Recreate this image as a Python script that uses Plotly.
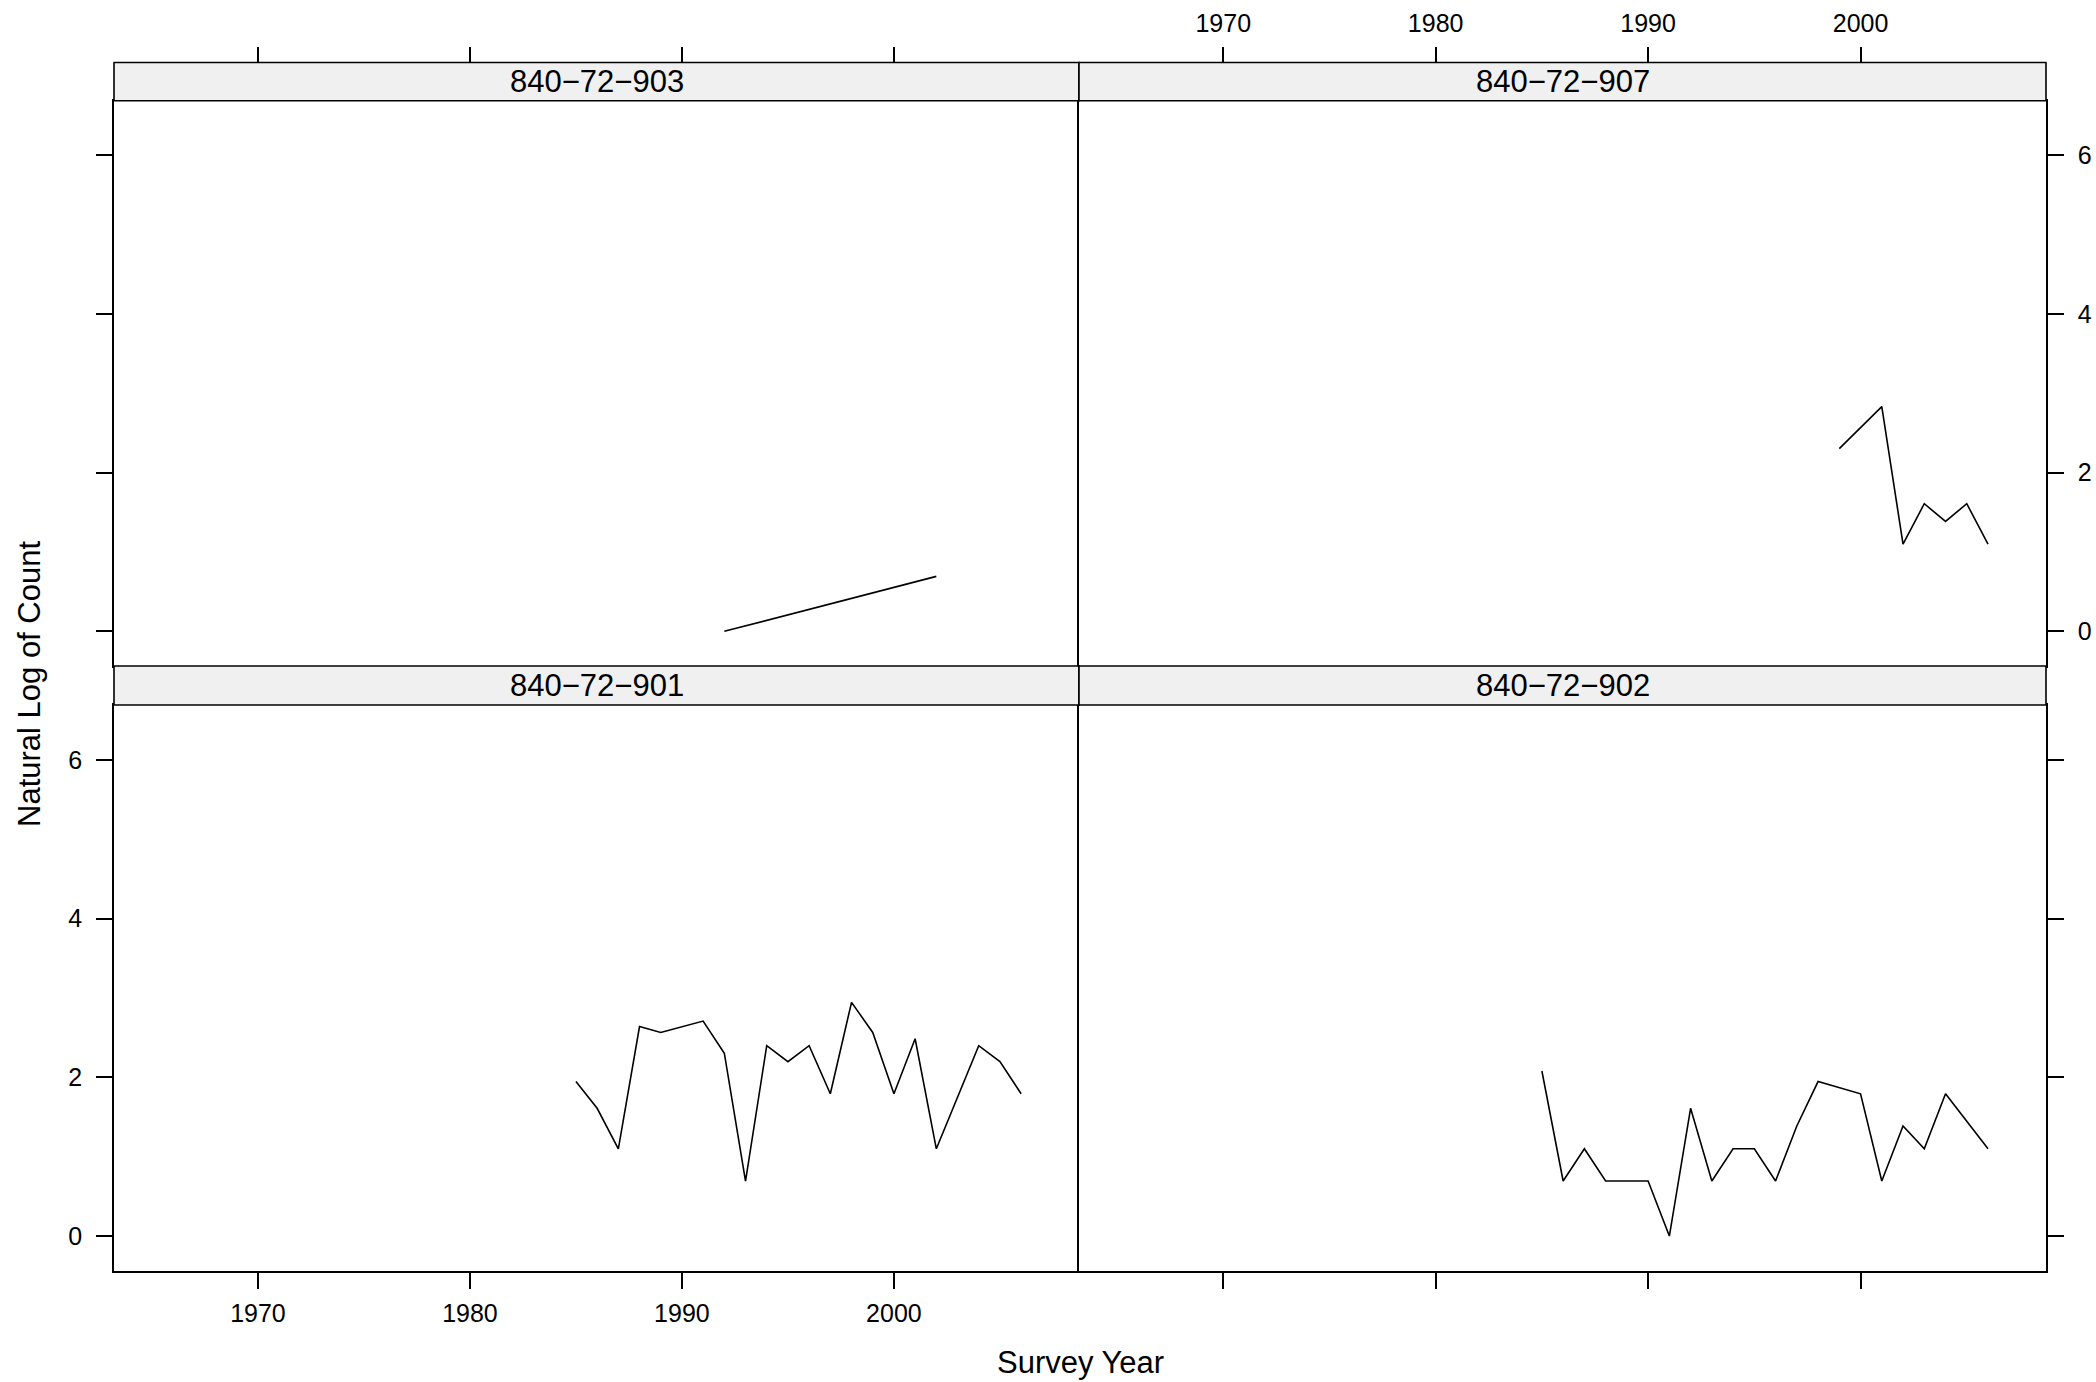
import plotly.graph_objects as go

# ---- data (natural log of counts) ----
panel_names = ["840\u221272\u2212901", "840\u221272\u2212902", "840\u221272\u2212903", "840\u221272\u2212907"]

years_901 = [1985, 1986, 1987, 1988, 1989, 1991, 1992, 1993, 1994, 1995, 1996,
             1997, 1998, 1999, 2000, 2001, 2002, 2004, 2005, 2006]
logc_901 = [1.946, 1.609, 1.099, 2.639, 2.565, 2.708, 2.303, 0.693, 2.398, 2.197, 2.398,
            1.792, 2.944, 2.565, 1.792, 2.485, 1.099, 2.398, 2.197, 1.792]

years_902 = [1985, 1986, 1987, 1988, 1989, 1990, 1991, 1992, 1993, 1994, 1995, 1996,
             1997, 1998, 2000, 2001, 2002, 2003, 2004, 2006]
logc_902 = [2.079, 0.693, 1.099, 0.693, 0.693, 0.693, 0.0, 1.609, 0.693, 1.099, 1.099, 0.693,
            1.386, 1.946, 1.792, 0.693, 1.386, 1.099, 1.792, 1.099]

years_903 = [1992, 2002]
logc_903 = [0.0, 0.693]

years_907 = [1999, 2001, 2002, 2003, 2004, 2005, 2006]
logc_907 = [2.303, 2.833, 1.099, 1.609, 1.386, 1.609, 1.099]

x_ticks = [1970, 1980, 1990, 2000]
y_ticks = [0, 2, 4, 6]
x_title = "Survey Year"
y_title = "Natural Log of Count"

# ---- layout geometry (pixels in the 2096x1382 window) ----
W, H = 2096, 1382
XL0, XM, XR1 = 114, 1079, 2046
TS0, TS1, TP1 = 62.5, 100.7, 666
BS1, BP1 = 705, 1270.7
XRANGE = [1963.21, 2008.73]
YRANGE = [-0.437, 6.69]
FONT = "Liberation Sans, Arial, Helvetica, sans-serif"
TICKF = dict(family=FONT, size=25, color="black")
LW = 1.6

def px(x):
    return x / W

def py(y):
    return 1 - y / H

fig = go.Figure()
line = dict(color="black", width=1.6)
fig.add_trace(go.Scatter(x=years_901, y=logc_901, mode="lines", line=line, xaxis="x", yaxis="y", showlegend=False))
fig.add_trace(go.Scatter(x=years_902, y=logc_902, mode="lines", line=line, xaxis="x2", yaxis="y2", showlegend=False))
fig.add_trace(go.Scatter(x=years_903, y=logc_903, mode="lines", line=line, xaxis="x3", yaxis="y3", showlegend=False))
fig.add_trace(go.Scatter(x=years_907, y=logc_907, mode="lines", line=line, xaxis="x4", yaxis="y4", showlegend=False))
# carriers for the top tick axes (above the strips)
fig.add_trace(go.Scatter(x=[], y=[], xaxis="x5", yaxis="y3", showlegend=False))
fig.add_trace(go.Scatter(x=[], y=[], xaxis="x6", yaxis="y4", showlegend=False))

def xax(domain, anchor, side, labels, ticks=True):
    return dict(domain=domain, anchor=anchor, side=side, range=XRANGE, tickvals=x_ticks,
                ticks="outside" if ticks else "", ticklen=16, tickwidth=1.5, tickcolor="black",
                showticklabels=labels, tickfont=TICKF, ticklabelstandoff=3, showline=True,
                mirror=True, linecolor="black", linewidth=LW, showgrid=False, zeroline=False)

def yax(domain, anchor, side, labels, mirror):
    return dict(domain=domain, anchor=anchor, side=side, range=YRANGE, tickvals=y_ticks,
                ticks="outside", ticklen=16, tickwidth=1.5, tickcolor="black",
                showticklabels=labels, tickfont=TICKF, ticklabelstandoff=9, showline=True,
                mirror=mirror, linecolor="black", linewidth=LW, showgrid=False, zeroline=False)

dL = [px(XL0), px(XM)]
dR = [px(XM), px(XR1)]
dB = [py(BP1), py(BS1)]
dT = [py(TP1), py(TS1)]

def topax(over, domain, labels):
    return dict(overlaying=over, domain=domain, anchor="free", position=py(TS0), side="top",
                range=XRANGE, tickvals=x_ticks, ticks="outside", ticklen=16, tickwidth=1.5,
                tickcolor="black", showticklabels=labels, tickfont=TICKF, ticklabelstandoff=5,
                showline=False, showgrid=False, zeroline=False)

fig.update_layout(
    width=W, height=H, margin=dict(l=0, r=0, t=0, b=0),
    paper_bgcolor="white", plot_bgcolor="white",
    font=dict(family=FONT, color="black"),
    xaxis=xax(dL, "y", "bottom", True),
    yaxis=yax(dB, "x", "left", True, False),
    xaxis2=xax(dR, "y2", "bottom", False),
    yaxis2=yax(dB, "x2", "right", False, True),
    xaxis3=xax(dL, "y3", "top", False, ticks=False),
    yaxis3=yax(dT, "x3", "left", False, False),
    xaxis4=xax(dR, "y4", "top", False, ticks=False),
    yaxis4=yax(dT, "x4", "right", True, True),
    xaxis5=topax("x3", dL, False),
    xaxis6=topax("x4", dR, True),
)

# strips
strip_boxes = [
    (XL0, XM, TP1, BS1, panel_names[0]),
    (XM, XR1, TP1, BS1, panel_names[1]),
    (XL0, XM, TS0, TS1, panel_names[2]),
    (XM, XR1, TS0, TS1, panel_names[3]),
]
for x0, x1, y0, y1, name in strip_boxes:
    fig.add_shape(type="rect", xref="paper", yref="paper",
                  x0=px(x0), x1=px(x1), y0=py(y1), y1=py(y0),
                  fillcolor="#F0F0F0", line=dict(color="black", width=LW), layer="above")
    fig.add_annotation(xref="paper", yref="paper", x=px((x0 + x1) / 2), y=py((y0 + y1) / 2),
                       text=name, showarrow=False, xanchor="center", yanchor="middle",
                       font=dict(family=FONT, size=31, color="black"))

fig.add_annotation(xref="paper", yref="paper", x=px((XL0 + XR1) / 2), y=py(1362),
                   text=x_title, showarrow=False, xanchor="center", yanchor="middle",
                   font=dict(family=FONT, size=31, color="black"))
fig.add_annotation(xref="paper", yref="paper", x=px(29), y=py(684),
                   text=y_title, showarrow=False, xanchor="center", yanchor="middle",
                   textangle=-90, font=dict(family=FONT, size=31, color="black"))

fig.write_html(
    "out.html",
    config={"displayModeBar": False},
    post_script="document.documentElement.style.overflow='hidden';"
                "document.body.style.margin='0';document.body.style.overflow='hidden';",
)
